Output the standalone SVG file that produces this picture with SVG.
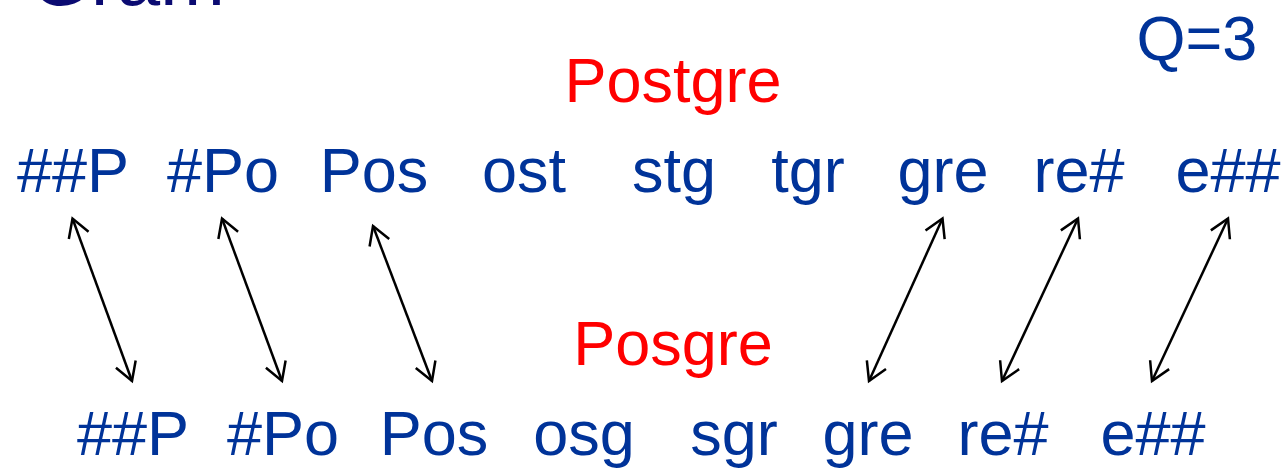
<svg xmlns="http://www.w3.org/2000/svg" width="1284" height="468" viewBox="0 0 1284 468">
  <style>
    text { font-family: "Liberation Sans", Arial, sans-serif; font-size: 63px; text-anchor: middle; }
    .gram { fill: #003399; }
    .word { fill: #ff0000; }
    .title { fill: #0b0b72; font-size: 78px; text-anchor: start; }
    .link { stroke: #000; stroke-width: 2.5; fill: none; marker-start: url(#head); marker-end: url(#head); }
  </style>
  <defs>
    <marker id="head" markerUnits="userSpaceOnUse" viewBox="-22 -13 25 26" refX="0" refY="0" markerWidth="25" markerHeight="26" orient="auto-start-reverse" overflow="visible">
      <path d="M-18,-10.5 L0,0 L-18,10.5" fill="none" stroke="#000" stroke-width="2.5" stroke-linejoin="miter"/>
    </marker>
  </defs>

  <rect width="1284" height="468" fill="#fff"/>

  <!-- slide title, running off the top edge -->
  <text class="title" x="30" y="5">Gram</text>

  <g id="q-label"><text class="gram" x="1197" y="60">Q=3</text></g>

  <!-- source word and its 3-grams -->
  <g id="word-postgre"><text class="word" x="673" y="102">Postgre</text></g>
  <g id="top-grams" class="gram">
    <g id="t1"><text x="73" y="192">##P</text></g>
    <g id="t2"><text x="223" y="192">#Po</text></g>
    <g id="t3"><text x="374" y="192">Pos</text></g>
    <g id="t4"><text x="524" y="192">ost</text></g>
    <g id="t5"><text x="674" y="192">stg</text></g>
    <g id="t6"><text x="808" y="192">tgr</text></g>
    <g id="t7"><text x="943" y="192">gre</text></g>
    <g id="t8"><text x="1079" y="192">re#</text></g>
    <g id="t9"><text x="1228" y="192">e##</text></g>
  </g>

  <!-- compared word and its 3-grams -->
  <g id="word-posgre"><text class="word" x="673" y="365">Posgre</text></g>
  <g id="bottom-grams" class="gram">
    <g id="b1"><text x="133" y="455">##P</text></g>
    <g id="b2"><text x="283" y="455">#Po</text></g>
    <g id="b3"><text x="434" y="455">Pos</text></g>
    <g id="b4"><text x="584" y="455">osg</text></g>
    <g id="b5"><text x="734" y="455">sgr</text></g>
    <g id="b6"><text x="868" y="455">gre</text></g>
    <g id="b7"><text x="1003" y="455">re#</text></g>
    <g id="b8"><text x="1153" y="455">e##</text></g>
  </g>

  <!-- matching grams -->
  <g id="connectors">
    <line class="link" x1="72.5" y1="218.5" x2="132" y2="381"/>
    <line class="link" x1="222" y1="218.5" x2="282" y2="381"/>
    <line class="link" x1="373" y1="226" x2="432" y2="381"/>
    <line class="link" x1="942.5" y1="218.5" x2="869" y2="381"/>
    <line class="link" x1="1078" y1="218.5" x2="1002" y2="381"/>
    <line class="link" x1="1228" y1="218.5" x2="1152" y2="381"/>
  </g>
</svg>
